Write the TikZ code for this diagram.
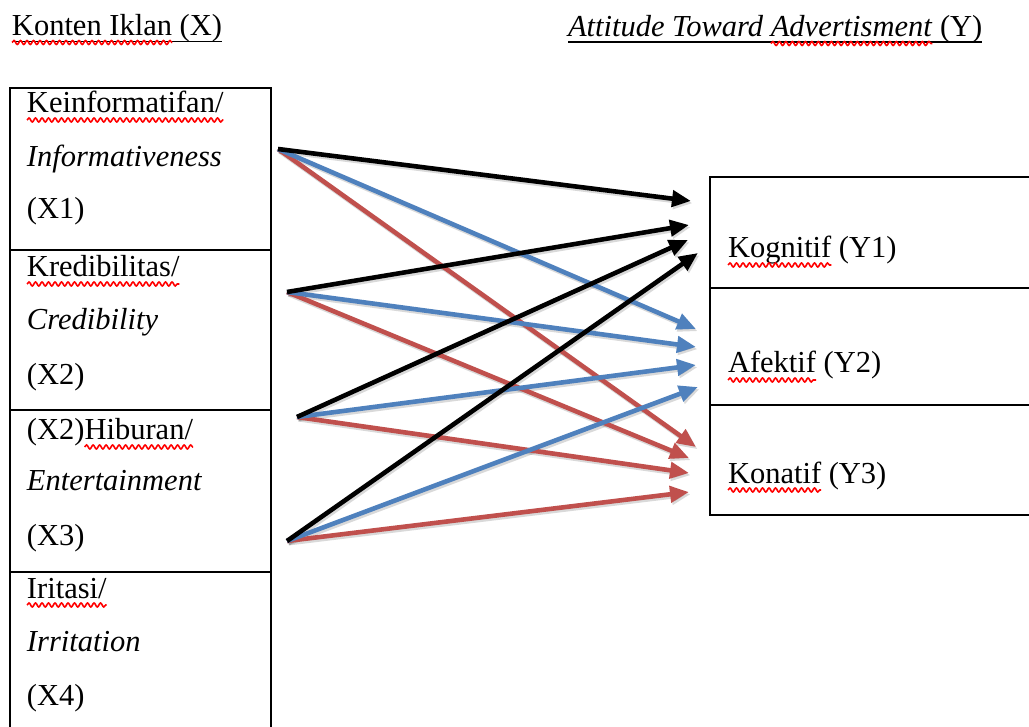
\documentclass[tikz,border=0pt]{standalone}
\usepackage{fontspec}
\setmainfont{Liberation Serif}
\usetikzlibrary{arrows.meta,decorations.pathmorphing}
\definecolor{ablue}{HTML}{4F81BD}
\definecolor{ared}{HTML}{C0504D}
\begin{document}
\begin{tikzpicture}[x=1pt,y=-1pt,
  txt/.style={anchor=base west, inner sep=0pt, outer sep=0pt, font=\fontsize{30.5}{36}\selectfont},
  cell/.style={draw=black, line width=1.6pt},
  wave/.style={draw=red, line width=1.6pt, decorate, decoration={snake, segment length=6.5pt, amplitude=2pt}},
  uline/.style={draw=black, line width=1.6pt},
  arr/.style={line width=4.6pt, -{Triangle[length=19pt,width=16pt]}},
  shad/.style={arr, draw=black, opacity=0.15, transform canvas={shift={(1.5pt,-2.2pt)}}}
]
\useasboundingbox (0,0) rectangle (1029,727);
\clip (0,0) rectangle (1029,727);
\fill[white] (0,0) rectangle (1029,727);

% titles
\node[txt] (h1a) at (12,36) {Konten Iklan};
\node[txt] (h1b) at (h1a.base east) {\ (X)};
\draw[uline] ([yshift=-5.5pt]h1a.base west) -- ([yshift=-5.5pt]h1b.base east);
\draw[wave] ([yshift=-6.5pt]h1a.base west) -- ([yshift=-6.5pt]h1a.base east);

\node[txt] (h2a) at (568,37) {\textit{Attitude Toward}};
\node[txt] (h2b) at ([xshift=7.6pt]h2a.base east) {\textit{Advertisment}};
\node[txt] (h2c) at (h2b.base east) {\ (Y)};
\draw[uline] ([yshift=-5pt]h2a.base west) -- ([yshift=-5pt]h2c.base east);
\draw[wave] ([yshift=-6.5pt]h2b.base west) -- ([yshift=-6.5pt]h2b.base east);

% left column cells
\draw[cell] (10,88) rectangle (271,250);
\draw[cell] (10,250) rectangle (271,410);
\draw[cell] (10,410) rectangle (271,572);
\draw[cell] (10,572) rectangle (271,740);

% right column cells
\draw[cell] (710,177) rectangle (1040,288);
\draw[cell] (710,288) rectangle (1040,405);
\draw[cell] (710,405) rectangle (1040,515);

% left texts
\node[txt] (x1a) at (27,113) {Keinformatifan/};
\node[txt] (x1b) at (27,167) {\textit{Informativeness}};
\node[txt] (x1c) at (27,219) {(X1)};
\draw[wave] ([yshift=-7pt]x1a.base west) -- ([yshift=-7pt]x1a.base east);

\node[txt] (x2a) at (27,277) {Kredibilitas/};
\node[txt] (x2b) at (27,330) {\textit{Credibility}};
\node[txt] (x2c) at (27,385) {(X2)};
\draw[wave] ([yshift=-7pt]x2a.base west) -- ([yshift=-7pt]x2a.base east);

\node[txt] (x3p) at (27,440) {(X2)};
\node[txt] (x3a) at (x3p.base east) {Hiburan/};
\node[txt] (x3b) at (27,490) {\textit{Entertainment}};
\node[txt] (x3c) at (27,545) {(X3)};
\draw[wave] ([yshift=-7pt]x3a.base west) -- ([yshift=-7pt]x3a.base east);

\node[txt] (x4a) at (27,598) {Iritasi/};
\node[txt] (x4b) at (27,651) {\textit{Irritation}};
\node[txt] (x4c) at (27,705) {(X4)};
\draw[wave] ([yshift=-7pt]x4a.base west) -- ([yshift=-7pt]x4a.base east);

% right texts
\node[txt] (y1a) at (728,258) {Kognitif};
\node[txt] (y1b) at (y1a.base east) {\ (Y1)};
\draw[wave] ([yshift=-7pt]y1a.base west) -- ([yshift=-7pt]y1a.base east);
\node[txt] (y2a) at (728,373) {Afektif};
\node[txt] (y2b) at (y2a.base east) {\ (Y2)};
\draw[wave] ([yshift=-7pt]y2a.base west) -- ([yshift=-7pt]y2a.base east);
\node[txt] (y3a) at (728,483) {Konatif};
\node[txt] (y3b) at (y3a.base east) {\ (Y3)};
\draw[wave] ([yshift=-7pt]y3a.base west) -- ([yshift=-7pt]y3a.base east);

% arrow end points
\coordinate (sX1) at (278,149);
\coordinate (sX2) at (287,292);
\coordinate (sX3) at (297,417);
\coordinate (sX4) at (287,541);
\coordinate (tK1) at (691,201);
\coordinate (tK2) at (689,225);
\coordinate (tK3) at (688,240);
\coordinate (tK4) at (698,253);
\coordinate (tA1) at (696,329);
\coordinate (tA2) at (696,347);
\coordinate (tA3) at (696,365);
\coordinate (tA4) at (698,387);
\coordinate (tC1) at (696,447);
\coordinate (tC2) at (689,458);
\coordinate (tC3) at (689,473);
\coordinate (tC4) at (689,492);

\foreach \s/\t in {sX1/tC1,sX2/tC2,sX3/tC3,sX4/tC4,sX1/tA1,sX2/tA2,sX3/tA3,sX4/tA4,sX1/tK1,sX2/tK2,sX3/tK3,sX4/tK4}
  \draw[shad] (\s) -- (\t);
\foreach \s/\t/\c in {sX1/tC1/ared,sX2/tC2/ared,sX3/tC3/ared,sX4/tC4/ared,
                      sX1/tA1/ablue,sX2/tA2/ablue,sX3/tA3/ablue,sX4/tA4/ablue,
                      sX1/tK1/black,sX2/tK2/black,sX3/tK3/black,sX4/tK4/black}
  \draw[arr, draw=\c] (\s) -- (\t);
\end{tikzpicture}
\end{document}
